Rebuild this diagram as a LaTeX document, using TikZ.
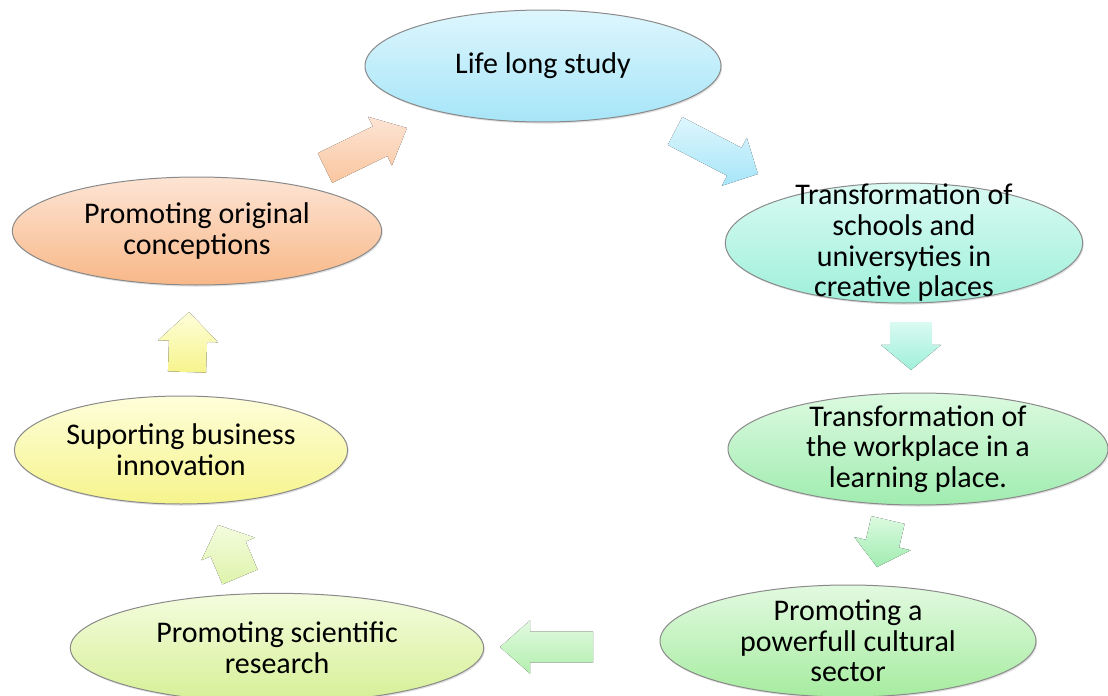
\documentclass[tikz,border=0pt]{standalone}
\usepackage{fontspec}
\setmainfont{Carlito}
\usetikzlibrary{shapes.geometric,calc,shadows}

\definecolor{rimgray}{RGB}{138,138,138}
\definecolor{studytop}{RGB}{222,246,253}
\definecolor{studybot}{RGB}{166,229,248}
\definecolor{schooltop}{RGB}{218,250,242}
\definecolor{schoolbot}{RGB}{158,240,218}
\definecolor{worktop}{RGB}{220,250,224}
\definecolor{workbot}{RGB}{160,236,176}
\definecolor{culturetop}{RGB}{226,250,224}
\definecolor{culturebot}{RGB}{166,236,160}
\definecolor{sciencetop}{RGB}{244,252,222}
\definecolor{sciencebot}{RGB}{214,240,150}
\definecolor{businesstop}{RGB}{254,254,218}
\definecolor{businessbot}{RGB}{246,244,140}
\definecolor{origtop}{RGB}{253,228,212}
\definecolor{origbot}{RGB}{248,184,136}

\tikzset{
  bubble/.style={ellipse, draw=rimgray, line width=0.75pt, inner sep=-40pt, align=center,
    font=\fontsize{22.5}{23}\selectfont,
    drop shadow={opacity=0.25, shadow xshift=0.8pt, shadow yshift=-1.2pt}},
}

% block arrow: #1 style, #2 tail, #3 tip, #4 half shaft, #5 half head, #6 head length
\newcommand{\blockarrow}[6]{%
  \path ($(#3)!#6!(#2)$) coordinate (hb);
  \fill[#1] ($(#2)!#4!90:(#3)$) -- ($(hb)!#4!90:(#3)$) -- ($(hb)!#5!90:(#3)$) -- (#3)
    -- ($(hb)!#5!-90:(#3)$) -- ($(hb)!#4!-90:(#3)$) -- ($(#2)!#4!-90:(#3)$) -- cycle;
}

\begin{document}
\begin{tikzpicture}[x=0.75pt,y=0.75pt,yscale=-1,xscale=1]
	\useasboundingbox (0,0) rectangle (1108,696);
	
	%Shape: Ellipse [life long study]
	\node (study) at (543,66) [bubble, minimum width=267pt, minimum height=84pt, top color=studytop, bottom color=studybot] {Life long study};
	%Shape: Ellipse [schools]
	\node (school) at (904,243) [bubble, minimum width=268pt, minimum height=90pt, top color=schooltop, bottom color=schoolbot] {Transformation of\\schools and\\universyties in\\creative places};
	%Shape: Ellipse [workplace]
	\node (work) at (918,449) [bubble, minimum width=285pt, minimum height=84pt, top color=worktop, bottom color=workbot] {Transformation of\\the workplace in a\\learning place.};
	%Shape: Ellipse [cultural sector]
	\node (culture) at (848,641) [bubble, minimum width=282pt, minimum height=84pt, top color=culturetop, bottom color=culturebot] {Promoting a\\powerfull cultural\\sector};
	%Shape: Ellipse [research]
	\node (science) at (277,648) [bubble, minimum width=310pt, minimum height=82pt, top color=sciencetop, bottom color=sciencebot] {Promoting scientific\\research};
	%Shape: Ellipse [business]
	\node (business) at (181,450) [bubble, minimum width=250pt, minimum height=81pt, top color=businesstop, bottom color=businessbot] {Suporting business\\innovation};
	%Shape: Ellipse [conceptions]
	\node (orig) at (197,231) [bubble, minimum width=277pt, minimum height=81pt, top color=origtop, bottom color=origbot] {Promoting original\\conceptions};
	
	% Arrow ends
	\coordinate (origOut) at (325,168);   \coordinate (studyIn) at (407,128);
	\coordinate (studyOut) at (675,131);  \coordinate (schoolIn) at (758,174);
	\coordinate (schoolOut) at (911,322); \coordinate (workIn) at (911,370);
	\coordinate (workOut) at (888,520);   \coordinate (cultureIn) at (877,567);
	\coordinate (cultureOut) at (593,647); \coordinate (scienceIn) at (500,647);
	\coordinate (scienceOut) at (240,577); \coordinate (businessIn) at (218,525);
	\coordinate (businessOut) at (187,372); \coordinate (origIn) at (189,312);
	
	%Block arrows
	\blockarrow{top color=origtop, bottom color=origbot!80!white}{origOut}{studyIn}{12.4pt}{20.3pt}{22.5pt}
	\blockarrow{top color=studytop, bottom color=studybot}{studyOut}{schoolIn}{11.8pt}{20.3pt}{20pt}
	\blockarrow{top color=schooltop, bottom color=schoolbot}{schoolOut}{workIn}{15.7pt}{22.5pt}{18.8pt}
	\blockarrow{top color=worktop, bottom color=workbot}{workOut}{cultureIn}{12.8pt}{21.8pt}{18pt}
	\blockarrow{top color=culturetop, bottom color=culturebot!85!white}{cultureOut}{scienceIn}{11.6pt}{19.9pt}{22.5pt}
	\blockarrow{top color=sciencetop, bottom color=sciencebot!80!white}{scienceOut}{businessIn}{14.3pt}{21.8pt}{19.5pt}
	\blockarrow{top color=businesstop, bottom color=businessbot}{businessOut}{origIn}{14.3pt}{22.5pt}{22pt}
	
\end{tikzpicture}
\end{document}
